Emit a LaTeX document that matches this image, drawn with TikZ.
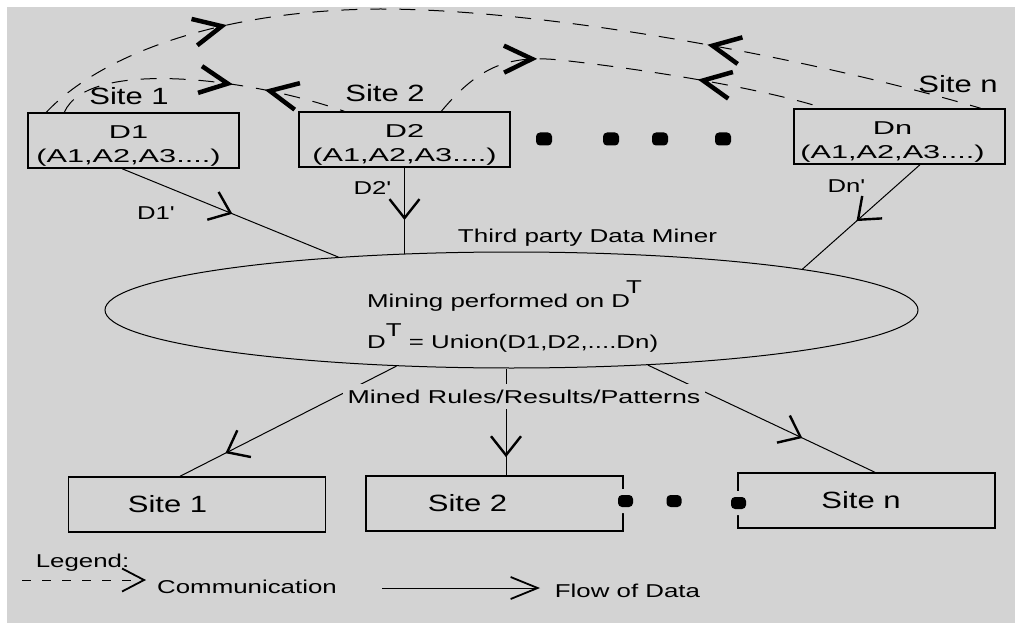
\documentclass[tikz,border=0pt]{standalone}
\usepackage{fontspec}
\setmainfont{Liberation Sans}
\usepackage{graphicx}
\usetikzlibrary{shapes.geometric,arrows.meta,decorations.markings}
\definecolor{bgc}{RGB}{211,211,211}
\newcommand{\hs}[2]{\scalebox{#1}[1]{#2}}
\tikzset{
  fb/.tip={Straight Barb[length=19pt,width=30pt,line width=2.4pt]},
  chev/.tip={Straight Barb[length=28pt,width=27pt,line width=4.5pt]},
  txt/.style={inner sep=0pt, font=\fontsize{18.6}{24}\selectfont},
  bigt/.style={inner sep=0pt, font=\fontsize{23.5}{28}\selectfont},
  dbox/.style={draw, line width=1.4pt, minimum width=211pt, minimum height=55pt, inner sep=0pt, align=center, font=\fontsize{18.6}{24}\selectfont},
  sbox/.style={draw, line width=1.4pt, minimum width=257pt, minimum height=55pt, inner sep=0pt, font=\fontsize{23.5}{28}\selectfont},
  flow/.style={line width=1pt},
  comm/.style={line width=1pt, dash pattern=on 16pt off 13pt},
  fa/.style={postaction={decorate, decoration={markings, mark=at position #1 with {\arrow{fb}}}}},
  cm/.style 2 args={postaction={decorate, decoration={markings, mark=at position #1 with {\arrow{chev}}, mark=at position #2 with {\arrowreversed{chev}}}}},
  dot/.style={fill=black, rounded corners=4pt, minimum width=16pt, minimum height=13pt, inner sep=0pt},
  hdot/.style={dot, minimum width=15pt, minimum height=12pt, preaction={draw=bgc, line width=12pt}}
}
\begin{document}
\begin{tikzpicture}[x=1pt,y=-1pt]
\useasboundingbox (0,0) rectangle (1024,628);
\fill[white] (0,0) rectangle (1024,628);
\fill[bgc] (7,7) rectangle (1015,623);

% top data boxes
\node[dbox] (d1) at (133.5,140.5) {\rule{0pt}{23pt}\hs{1.65}{D1}\hspace*{10pt}\\\hs{1.65}{(A1,A2,A3....)}\hspace*{10pt}};
\node[dbox] (d2) at (404.5,139.5) {\rule{0pt}{23pt}\hs{1.65}{D2}\\\hs{1.65}{(A1,A2,A3....)}};
\node[dbox] (dn) at (899.5,136.5) {\rule{0pt}{23pt}\hs{1.65}{Dn}\hspace*{14pt}\\\hs{1.65}{(A1,A2,A3....)}\hspace*{14pt}};

\node[bigt, anchor=base] (lab1) at (129,105) {\hs{1.32}{Site 1}};
\node[bigt, anchor=base] (lab2) at (385,102) {\hs{1.32}{Site 2}};
\node[bigt, anchor=base] (labn) at (958,93) {\hs{1.32}{Site n}};

\node[dot] (p1) at (544,139) {};
\node[dot] (p2) at (611,139) {};
\node[dot] (p3) at (660,139) {};
\node[dot] (p4) at (723,139) {};

% communication arcs
\draw[comm, cm={0.21}{0.71}] ([xshift=19pt]d1.north west) .. controls (100,55) and (220,10) .. (380,9) .. controls (540,9) and (800,55) .. ([xshift=-25pt]dn.north east);
\draw[comm, cm={0.61}{0.72}] ([xshift=37pt]d1.north west) .. controls (88,58) and (250,78) .. ([xshift=46pt]d2.north west);
\draw[comm, cm={0.28}{0.68}] ([xshift=143pt]d2.north west) .. controls (480,65) and (510,55) .. (560,60) .. controls (650,70) and (760,88) .. ([xshift=31pt]dn.north west);

% miner
\node[draw, ellipse, line width=1pt, minimum width=813pt, minimum height=116pt, inner sep=0pt] (ell) at (511.5,310) {};
\node[txt, anchor=base] (tp) at (587.5,242) {\hs{1.4}{Third party Data Miner}};
\node[txt, anchor=base west] (mine1) at (367,307) {\hs{1.39}{Mining performed on D\kern-3pt\raisebox{14pt}{T}}};
\node[txt, anchor=base west] (mine2) at (367,348) {\hs{1.39}{D\raisebox{12pt}{T} = Union(D1,D2,....Dn)}};

% data flow into miner
\draw[flow, fa=0.51] ([xshift=-11.5pt]d1.south) -- (ell.163);
\draw[flow, fa=0.61] (d2.south) -- (d2.south |- ell.152);
\draw[flow, fa=0.54] ([xshift=20.5pt]dn.south) -- (ell.8);
\node[txt, anchor=base] (l1) at (156,220) {\hs{1.38}{D1\textquotesingle}};
\node[txt, anchor=base] (l2) at (372.5,195) {\hs{1.38}{D2\textquotesingle}};
\node[txt, anchor=base] (ln) at (846.5,193) {\hs{1.38}{Dn\textquotesingle}};

% result boxes
\node[sbox] (s1) at (197,504.5) {\hs{1.32}{Site 1}\hspace*{59pt}};
\node[sbox] (s2) at (494.5,503.5) {\hs{1.32}{Site 2}\hspace*{54pt}};
\node[sbox] (sn) at (866.5,500.5) {\hs{1.32}{Site n}\hspace*{11pt}};
\coordinate (s2in) at ([xshift=11.5pt]s2.north);

\draw[flow, fa=0.79] (ell.206) -- ([xshift=-17pt]s1.north);
\draw[flow, fa=0.83] (ell.south -| s2in) -- (s2in);
\draw[flow, fa=0.68] (ell.338) -- ([xshift=8.5pt]sn.north);
\node[txt, anchor=base, fill=bgc, inner xsep=5pt, inner ysep=6pt] (mr) at (524,403) {\hs{1.44}{Mined Rules/Results/Patterns}};

\node[hdot] (q1) at (625.5,501) {};
\node[dot, minimum width=15pt, minimum height=12pt] (q2) at (674,501) {};
\node[hdot] (q3) at (738.5,503) {};

% legend
\node[txt, anchor=base] (leg) at (82.5,567) {\hs{1.39}{Legend:}};
\coordinate (c1) at (22,580);
\coordinate (c2) at (146,580);
\draw[line width=1pt, dash pattern=on 9pt off 11pt, -{Straight Barb[length=22pt,width=23pt,line width=1.8pt]}] (c1) -- (c2);
\node[txt, anchor=base] (commt) at (247,593) {\hs{1.39}{Communication}};
\coordinate (f1) at (382,588);
\coordinate (f2) at (540,588);
\draw[line width=1pt, -{Straight Barb[length=27pt,width=22pt,line width=1.8pt]}] (f1) -- (f2);
\node[txt, anchor=base] (flowt) at (627.5,597) {\hs{1.39}{Flow of Data}};
\end{tikzpicture}
\end{document}
